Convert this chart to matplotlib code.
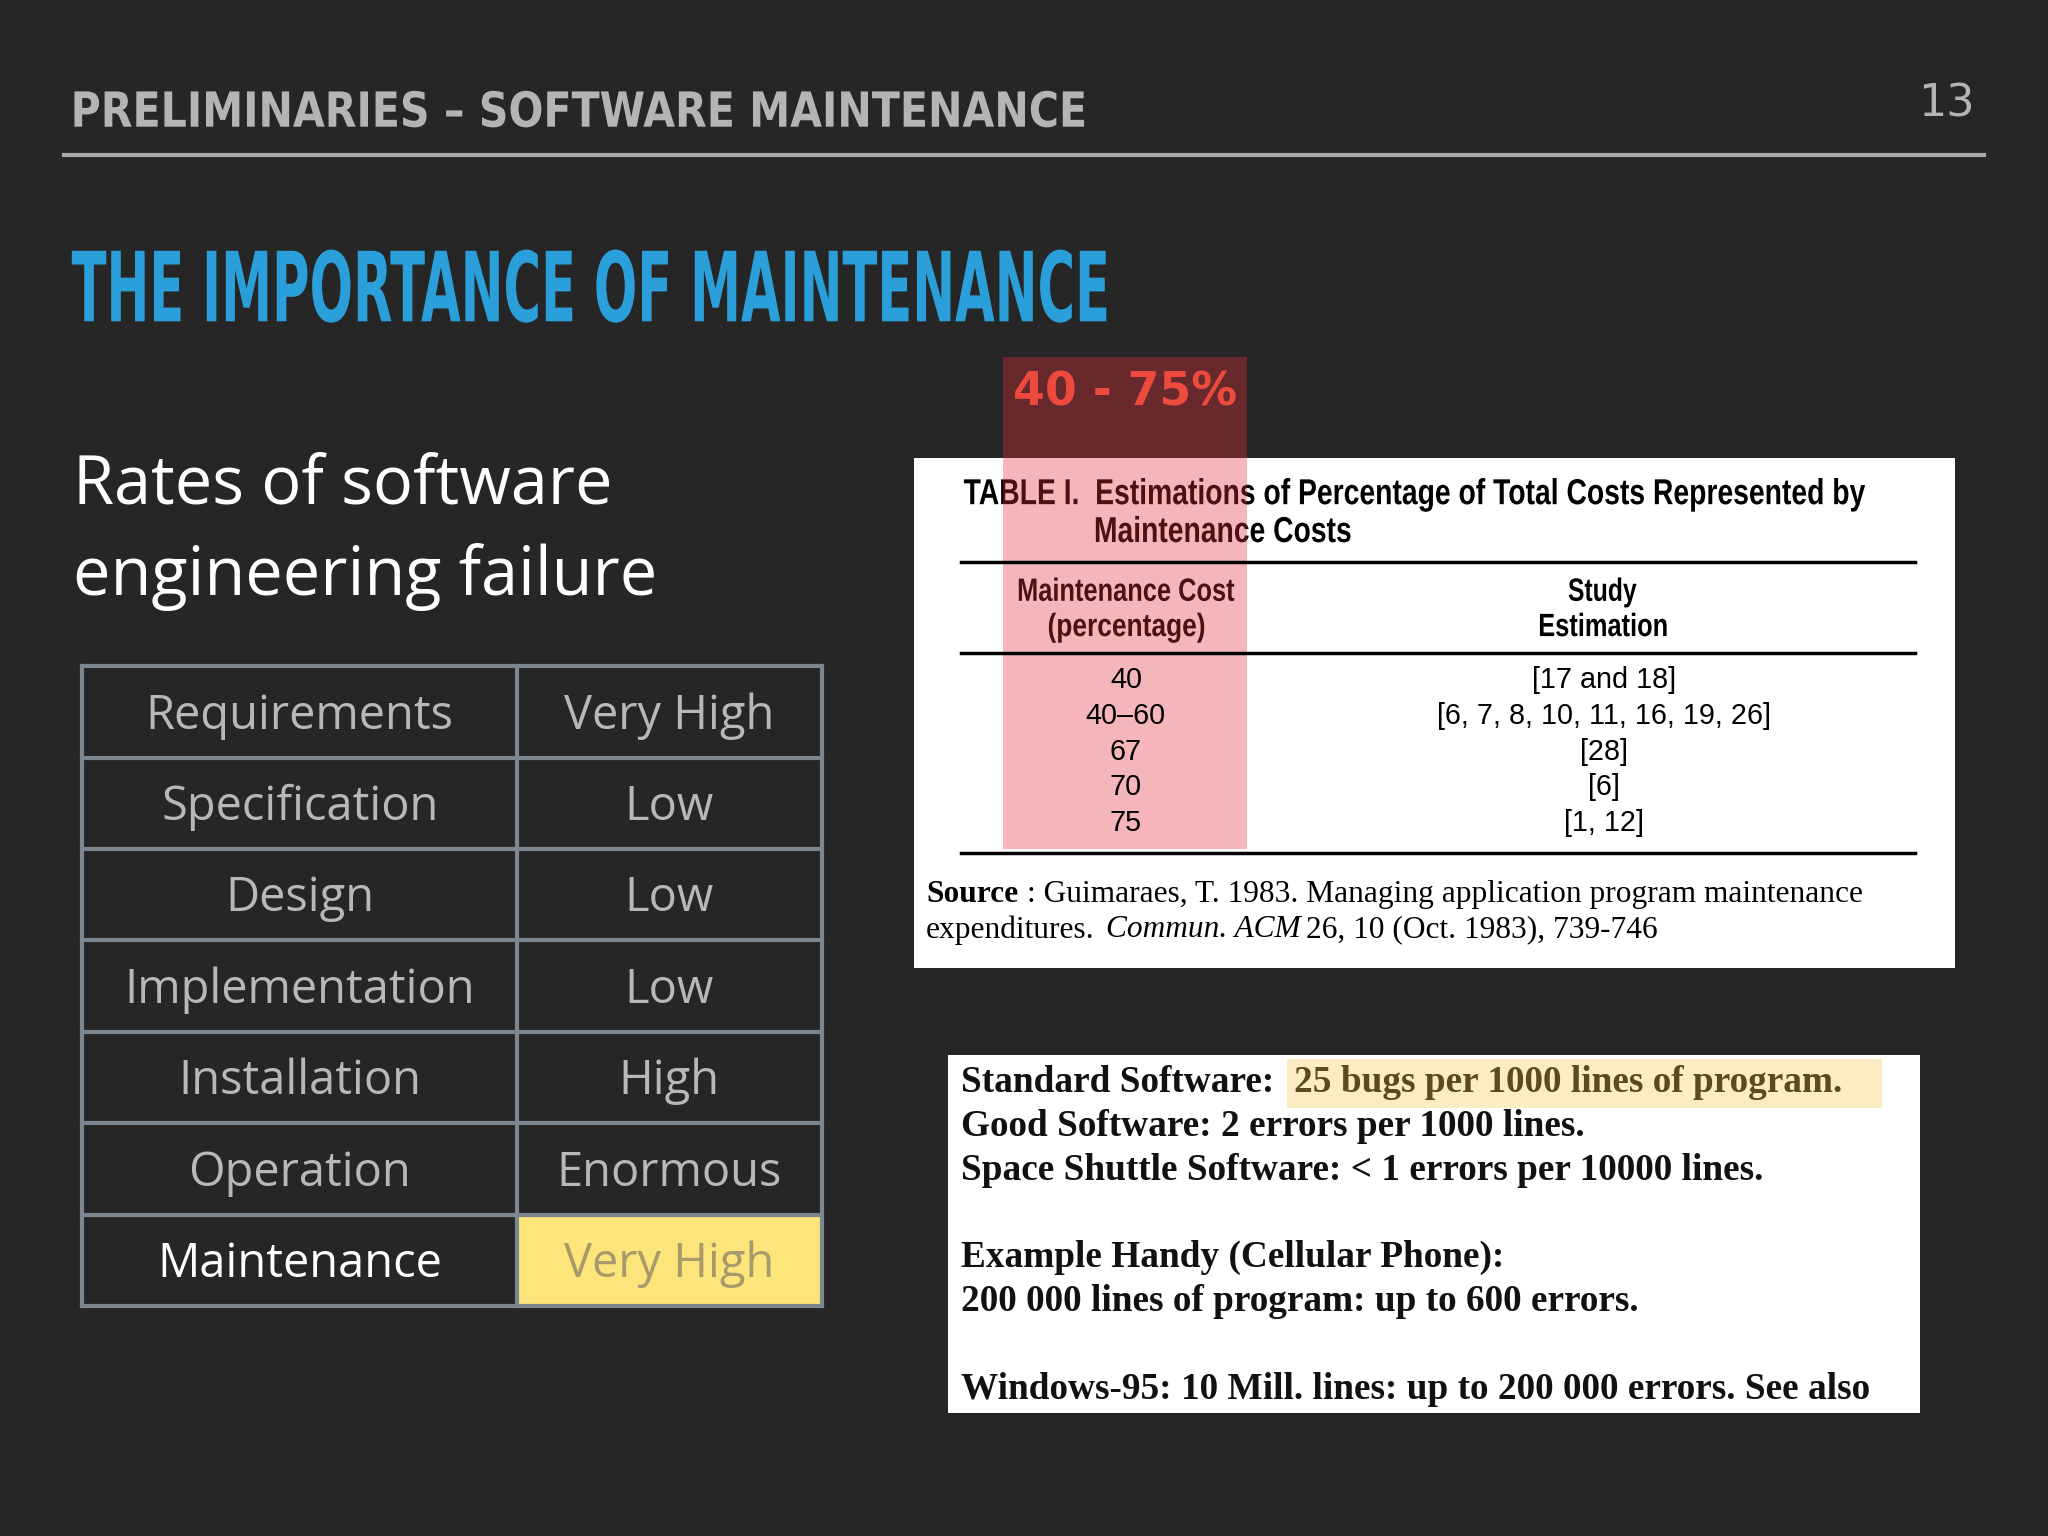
import matplotlib
matplotlib.use('Agg')
import matplotlib.pyplot as plt
from matplotlib.patches import Rectangle, PathPatch
from matplotlib.textpath import TextPath
from matplotlib.font_manager import FontProperties
from matplotlib.transforms import Affine2D

# data
phases = ['Requirements', 'Specification', 'Design', 'Implementation',
          'Installation', 'Operation', 'Maintenance']
ratings = ['Very High', 'Low', 'Low', 'Low', 'High', 'Enormous', 'Very High']
cost_pct = ['40', '40–60', '67', '70', '75']
studies = ['[17 and 18]', '[6, 7, 8, 10, 11, 16, 19, 26]', '[28]', '[6]', '[1, 12]']
bug_lines = [
    'Standard Software: ',
    'Good Software: 2 errors per 1000 lines.',
    'Space Shuttle Software: < 1 errors per 10000 lines.',
    '',
    'Example Handy (Cellular Phone):',
    '200 000 lines of program: up to 600 errors.',
    '',
    'Windows-95: 10 Mill. lines: up to 200 000 errors. See also',
]
bug_highlight = '25 bugs per 1000 lines of program.'

W, H = 1568, 1176
S = 2048 / W * 0.72  # display px -> points

def fs(px):
    return px * S

BG = '#262626'
fig = plt.figure(figsize=(20.48, 15.36), dpi=100)
fig.patch.set_facecolor(BG)
ax = fig.add_axes([0, 0, 1, 1])
ax.set_xlim(0, W)
ax.set_ylim(H, 0)
ax.axis('off')


def squeezed(x, y_base, s, width, cap, color, bold=True, family='DejaVu Sans'):
    # draw text as a path, stretched to fit a given width / cap height
    fp = FontProperties(family=family, weight='bold' if bold else 'normal')
    tp = TextPath((0, 0), s, size=100, prop=fp)
    ext = tp.get_extents()
    capp = TextPath((0, 0), 'H', size=100, prop=fp).get_extents().height
    sx = width / ext.width
    sy = cap / capp
    tr = Affine2D().translate(-ext.x0, 0).scale(sx, -sy).translate(x, y_base)
    ax.add_patch(PathPatch(tr.transform_path(tp), facecolor=color, edgecolor='none'))


# header
squeezed(57, 97, 'PRELIMINARIES – SOFTWARE MAINTENANCE', 773, 27, '#b4b4b4')
ax.text(1512, 80, '13', color='#b4b4b4', fontsize=fs(34), va='center', ha='right')
ax.plot([49, 1519], [119, 119], color='#a8a8a8', lw=3)

squeezed(55, 246, 'THE IMPORTANCE OF MAINTENANCE', 792, 54, '#2b9fd9')

ax.text(56, 372, 'Rates of software', color='white', fontsize=fs(51),
        va='center', ha='left', fontfamily='Open Sans')
ax.text(56, 442, 'engineering failure', color='white', fontsize=fs(51),
        va='center', ha='left', fontfamily='Open Sans')

# left table
x0, xm, x1 = 63, 396, 629
y0, rh = 510, 70
for i, (p, r) in enumerate(zip(phases, ratings)):
    y = y0 + i * rh
    last = i == len(phases) - 1
    if last:
        ax.add_patch(Rectangle((xm, y), x1 - xm, rh, facecolor='#fde47b', edgecolor='none'))
    ax.text((x0 + xm) / 2, y + rh / 2 + 3, p, color='white' if last else '#b8b8b8',
            fontsize=fs(36), ha='center', va='center', fontfamily='Open Sans')
    ax.text((xm + x1) / 2, y + rh / 2 + 3, r, color='#a89a6a' if last else '#b8b8b8',
            fontsize=fs(36), ha='center', va='center', fontfamily='Open Sans')
for i in range(len(phases) + 1):
    ax.plot([x0, x1], [y0 + i * rh] * 2, color='#7c8792', lw=3)
for x in (x0, xm, x1):
    ax.plot([x, x], [y0, y0 + len(phases) * rh], color='#7c8792', lw=3)

# table I box
ax.add_patch(Rectangle((700, 351), 797, 390, facecolor='white', edgecolor='none'))
squeezed(738, 386, 'TABLE I.  Estimations of Percentage of Total Costs Represented by',
         690, 19, 'black', family='Liberation Sans')
squeezed(839, 415, 'Maintenance Costs', 195, 19, 'black', family='Liberation Sans')
for y in (430, 500, 653):
    ax.plot([736, 1466], [y, y], color='black', lw=2.5)
squeezed(780, 460, 'Maintenance Cost', 165, 17, 'black', family='Liberation Sans')
squeezed(803, 487, '(percentage)', 119, 17, 'black', family='Liberation Sans')
squeezed(1201, 460, 'Study', 52, 17, 'black', family='Liberation Sans')
squeezed(1179, 487, 'Estimation', 97, 17, 'black', family='Liberation Sans')
for i, (c, s) in enumerate(zip(cost_pct, studies)):
    y = 521 + i * 27.3
    ax.text(862, y, c, fontsize=fs(22), ha='center', va='center',
            fontfamily='Liberation Sans', fontstretch='condensed')
    ax.text(1228, y, s, fontsize=fs(22), ha='center', va='center',
            fontfamily='Liberation Sans')
ax.text(709, 685, 'Source', fontsize=fs(24), fontweight='bold', va='center',
        fontfamily='Liberation Serif')
ax.text(786, 685, ': Guimaraes, T. 1983. Managing application program maintenance',
        fontsize=fs(24), va='center', fontfamily='Liberation Serif')
ax.text(709, 712, 'expenditures.', fontsize=fs(24), va='center', fontfamily='Liberation Serif')
ax.text(847, 712, 'Commun. ACM', fontsize=fs(24), va='center', style='italic',
        fontfamily='Liberation Serif')
ax.text(1000, 712, '26, 10 (Oct. 1983), 739-746', fontsize=fs(24), va='center',
        fontfamily='Liberation Serif')

# red highlight
ax.add_patch(Rectangle((768, 273), 187, 377, facecolor='#e5303c', alpha=0.35, edgecolor='none'))
ax.text(861, 301, '40 - 75%', color='#ec4a3c', fontsize=fs(35), fontweight='bold',
        ha='center', va='center')

# bugs box
ax.add_patch(Rectangle((726, 808), 744, 274, facecolor='white', edgecolor='none'))
ax.add_patch(Rectangle((985, 811), 456, 37, facecolor='#fbecc4', edgecolor='none'))
for i, line in enumerate(bug_lines):
    ax.text(736, 829 + i * 33.5, line, fontsize=fs(28.5), fontweight='bold',
            color='#111111', va='center', fontfamily='Liberation Serif')
ax.text(991, 829, bug_highlight, fontsize=fs(28.5), fontweight='bold',
        color='#5a4a20', va='center', fontfamily='Liberation Serif')

fig.savefig('out.png', dpi=100, facecolor=BG)
